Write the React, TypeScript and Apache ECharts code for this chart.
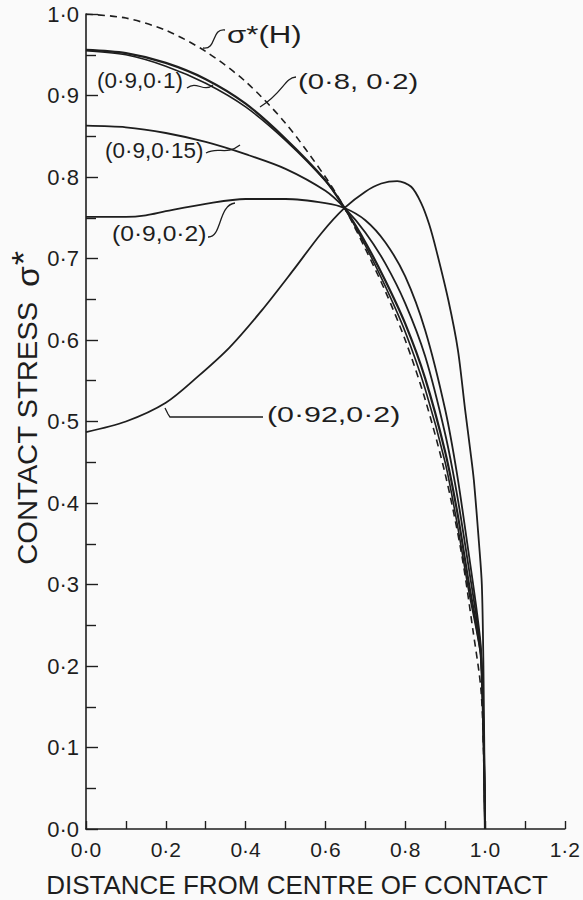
import React, { useEffect, useRef } from "react";
import * as echarts from "echarts";

// x: distance from centre of contact, y: contact stress sigma*
const hertzH: [number, number][] = [
  [0, 1.0], [0.1, 0.995], [0.2, 0.98], [0.3, 0.954], [0.4, 0.917], [0.5, 0.866],
  [0.6, 0.8], [0.648, 0.762], [0.7, 0.712], [0.75, 0.66], [0.8, 0.6], [0.85, 0.527],
  [0.9, 0.436], [0.94, 0.341], [0.97, 0.243], [0.99, 0.17], [0.997, 0.08], [1.0, 0],
];
const c09_01: [number, number][] = [
  [0, 0.955], [0.1, 0.95], [0.2, 0.936], [0.3, 0.915], [0.4, 0.886], [0.5, 0.845],
  [0.6, 0.795], [0.648, 0.762], [0.7, 0.716], [0.75, 0.666], [0.8, 0.61], [0.85, 0.54],
  [0.9, 0.45], [0.93, 0.375], [0.96, 0.29], [0.98, 0.24], [0.99, 0.21], [0.997, 0.1], [1.0, 0],
];
const c08_02: [number, number][] = [
  [0, 0.956], [0.1, 0.952], [0.2, 0.94], [0.3, 0.92], [0.4, 0.89], [0.5, 0.847],
  [0.6, 0.796], [0.648, 0.762], [0.7, 0.72], [0.75, 0.673], [0.8, 0.62], [0.85, 0.553],
  [0.9, 0.463], [0.93, 0.39], [0.96, 0.3], [0.98, 0.245], [0.99, 0.21], [0.997, 0.1], [1.0, 0],
];
const c09_015: [number, number][] = [
  [0, 0.863], [0.1, 0.861], [0.2, 0.854], [0.3, 0.843], [0.4, 0.828], [0.5, 0.81],
  [0.6, 0.783], [0.648, 0.762], [0.7, 0.732], [0.75, 0.694], [0.8, 0.645], [0.85, 0.58],
  [0.9, 0.485], [0.93, 0.41], [0.96, 0.318], [0.98, 0.255], [0.99, 0.215], [0.997, 0.1], [1.0, 0],
];
const c09_02: [number, number][] = [
  [0, 0.751], [0.1, 0.751], [0.15, 0.753], [0.2, 0.758], [0.3, 0.767], [0.4, 0.773],
  [0.5, 0.773], [0.6, 0.768], [0.648, 0.762], [0.7, 0.747], [0.75, 0.72], [0.8, 0.678],
  [0.85, 0.612], [0.9, 0.515], [0.93, 0.435], [0.96, 0.335], [0.98, 0.265], [0.99, 0.22],
  [0.997, 0.1], [1.0, 0],
];
const c092_02: [number, number][] = [
  [0, 0.487], [0.1, 0.5], [0.2, 0.523], [0.28, 0.555], [0.36, 0.591], [0.44, 0.636],
  [0.52, 0.686], [0.59, 0.731], [0.648, 0.762], [0.7, 0.782], [0.74, 0.792], [0.78, 0.795],
  [0.815, 0.788], [0.84, 0.768], [0.86, 0.742], [0.878, 0.71], [0.908, 0.649], [0.932, 0.588],
  [0.95, 0.515], [0.963, 0.465], [0.972, 0.428], [0.985, 0.35], [0.992, 0.3], [0.996, 0.2],
  [1.0, 0],
];

const xTickValues = [0, 0.2, 0.4, 0.6, 0.8, 1.0, 1.2];
const yTickValues = [0, 0.1, 0.2, 0.3, 0.4, 0.5, 0.6, 0.7, 0.8, 0.9, 1.0];

const curveLabels = [
  { text: "σ*(H)", x: 227, y: 35, sx: 1.3, size: 24 },
  { text: "(0·8, 0·2)", x: 298, y: 81, sx: 1.33, size: 22 },
  { text: "(0·9,0·1)", x: 97, y: 81, sx: 1.02, size: 22 },
  { text: "(0·9,0·15)", x: 105, y: 151, sx: 1.02, size: 22 },
  { text: "(0·9,0·2)", x: 112, y: 233, sx: 1.12, size: 22 },
  { text: "(0·92,0·2)", x: 267, y: 415, sx: 1.38, size: 22 },
];

const INK = "#1e1e1e";
const FONT = '"Liberation Sans", Arial, sans-serif';
const fmt = (v: number) => v.toFixed(1).replace(".", "·");

export default function App() {
  const ref = useRef<HTMLDivElement>(null);
  useEffect(() => {
    const chart = echarts.init(ref.current!, null, { renderer: "svg" });
    const lineSeries = (name: string, data: [number, number][], dashed = false, width = 1.8) => ({
      type: "line",
      name,
      data,
      showSymbol: false,
      smooth: 0.3,
      lineStyle: { color: INK, width, type: dashed ? [7, 5] : "solid" },
      z: 3,
    });
    const squiggle = (x1: number, y1: number, x2: number, y2: number, c1x: number, c1y: number, c2x: number, c2y: number) => ({
      type: "bezierCurve",
      shape: { x1, y1, x2, y2, cpx1: c1x, cpy1: c1y, cpx2: c2x, cpy2: c2y },
      style: { stroke: INK, lineWidth: 1.3, fill: "none" },
      silent: true,
    });
    chart.setOption({
      animation: false,
      backgroundColor: "#fafafa",
      grid: { left: 86, right: 9, top: 14, bottom: 71, containLabel: false },
      xAxis: {
        type: "value",
        min: 0,
        max: 1.2,
        interval: 0.2,
        axisLine: { show: true, lineStyle: { color: INK, width: 1.6 } },
        axisTick: { show: true, inside: true, length: 8, lineStyle: { color: INK, width: 1.4 } },
        minorTick: { show: true, splitNumber: 2, length: 8, lineStyle: { color: INK, width: 1.4 } },
        splitLine: { show: false },
        axisLabel: {
          margin: 10,
          fontSize: 21,
          fontFamily: FONT,
          color: INK,
          formatter: (v: number) => (xTickValues.some((t) => Math.abs(t - v) < 1e-6) ? fmt(v) : ""),
        },
      },
      yAxis: {
        type: "value",
        min: 0,
        max: 1.0,
        interval: 0.1,
        axisLine: { show: true, lineStyle: { color: INK, width: 1.6 } },
        axisTick: { show: true, inside: true, length: 12, lineStyle: { color: INK, width: 1.4 } },
        minorTick: { show: true, splitNumber: 2, length: 10, lineStyle: { color: INK, width: 1.4 } },
        splitLine: { show: false },
        axisLabel: {
          margin: 7,
          fontSize: 22,
          fontFamily: FONT,
          color: INK,
          formatter: (v: number) => (yTickValues.some((t) => Math.abs(t - v) < 1e-6) ? fmt(v) : ""),
        },
      },
      series: [
        lineSeries("σ*(H)", hertzH, true, 1.6),
        lineSeries("(0.9,0.1)", c09_01, false, 1.6),
        lineSeries("(0.8,0.2)", c08_02, false, 2.2),
        lineSeries("(0.9,0.15)", c09_015),
        lineSeries("(0.9,0.2)", c09_02),
        lineSeries("(0.92,0.2)", c092_02),
      ],
      graphic: [
        {
          type: "text",
          x: 297,
          y: 885,
          style: { text: "DISTANCE FROM CENTRE OF CONTACT", font: `26px ${FONT}`, fill: INK, align: "center", verticalAlign: "middle" },
        },
        {
          type: "text",
          x: 28,
          y: 408,
          rotation: Math.PI / 2,
          scaleX: 1.08,
          style: {
            text: "{a|CONTACT STRESS }{b|σ}{c|*}",
            fill: INK,
            align: "center",
            verticalAlign: "middle",
            rich: {
              a: { font: `27px ${FONT}`, fill: INK },
              b: { font: `31px ${FONT}`, fill: INK, padding: [0, 0, 0, 6] },
              c: { font: `34px ${FONT}`, fill: INK, padding: [0, 0, 10, 1] },
            },
          },
        },
        ...curveLabels.map((l) => ({
          type: "text",
          x: l.x,
          y: l.y,
          scaleX: l.sx,
          style: { text: l.text, font: `${l.size}px ${FONT}`, fill: INK, align: "left", verticalAlign: "middle" },
        })),
        // leader squiggles
        squiggle(203, 48, 225, 30, 217, 50, 211, 28),
        squiggle(260, 107, 296, 77, 284, 92, 284, 78),
        squiggle(187, 88, 213, 85, 197, 80, 203, 93),
        squiggle(206, 153, 240, 145, 218, 146, 226, 156),
        squiggle(208, 237, 235, 203, 222, 238, 218, 205),
        {
          type: "polyline",
          shape: { points: [[165, 408], [168, 414], [170, 417], [263, 417]] },
          style: { stroke: INK, lineWidth: 1.3, fill: "none" },
          silent: true,
        },
      ],
    });
    return () => chart.dispose();
  }, []);
  return <div ref={ref} style={{ position: "fixed", left: 0, top: 0, width: 583, height: 900 }} />;
}
